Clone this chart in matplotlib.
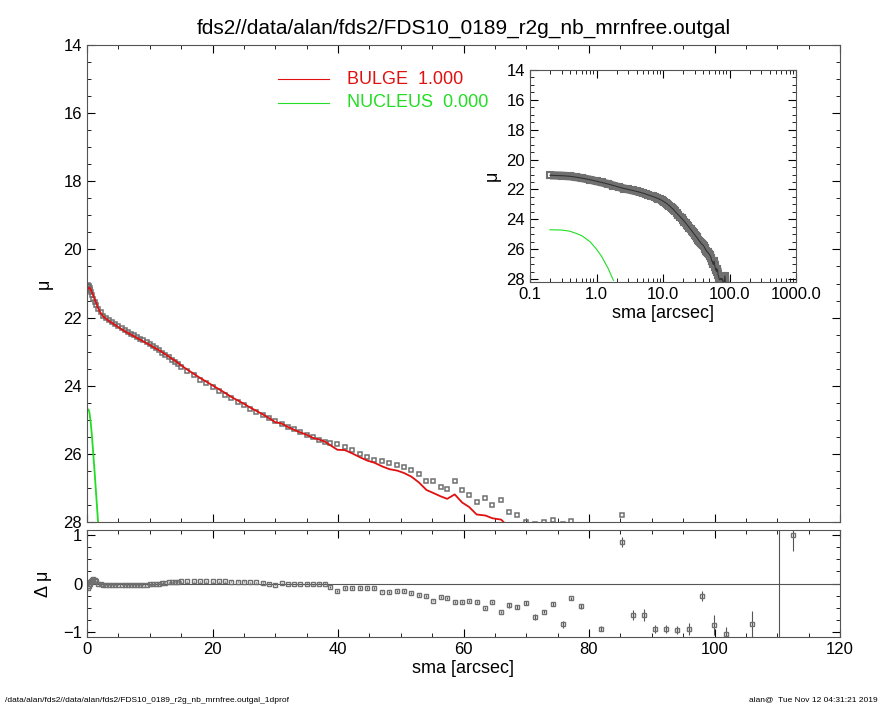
import numpy as np
import matplotlib
matplotlib.use("Agg")
import matplotlib.pyplot as plt
from matplotlib.ticker import MultipleLocator, FixedLocator, NullFormatter

plt.rcParams['font.family'] = ['Liberation Sans', 'DejaVu Sans']

sma = [0.2,0.3,0.4,0.5,0.6,0.8,1.0,1.2,1.5,1.8,2.2,2.6,3.0,3.5,4.0,4.5,5.0,5.5,6.0,6.5,7.0,7.5,8.0,8.5,9.0,9.5,
       10.0,10.5,11.0,11.5,12.0,12.5,13.0,13.5,14.0,14.5,15,16,17,18,19,20,21,22,23,24,25,26,27,28,29,30,31,32,33,34,35,36,37,
       38.0,38.8,39.9,41.1,42.3,43.5,44.7,45.8,47.0,48.2,49.4,50.5,51.7,52.9,54.1,55.2,56.4,57.4,58.6,59.8,60.9,62.1,63.5,
       64.6,66.0,67.2,68.5,69.9,71.4,72.9,74.2,75.8,77.2,78.7,81.9,85.3,87.0,88.8,90.5,92.3,94.1,96.0,98.0,99.9,101.9,106.0,112.5]
mu_data = [21.05,21.08,21.12,21.18,21.24,21.35,21.45,21.53,21.64,21.74,21.85,21.94,22.0,22.07,22.13,22.19,22.25,22.31,22.37,22.42,
           22.47,22.52,22.57,22.62,22.67,22.72,22.78,22.84,22.9,22.96,23.03,23.1,23.17,23.24,23.3,23.37,23.45,23.58,23.7,23.82,23.93,
           24.04,24.15,24.26,24.37,24.47,24.57,24.67,24.77,24.86,24.95,25.04,25.12,25.2,25.28,25.36,25.44,25.51,25.58,
           25.65,25.68,25.72,25.8,25.9,26.0,26.1,26.17,26.2,26.28,26.33,26.4,26.48,26.6,26.8,26.8,26.98,27.02,26.8,27.05,27.2,27.4,27.3,
           27.5,27.35,27.7,27.8,28.0,28.05,28.0,27.95,28.05,27.97,28.1,28.3,27.8,28.4,28.5,28.6,28.7,28.8,28.9,28.9,29.0,29.1,29.2,28.6]
resid = [-0.10,-0.05,0.00,0.03,0.06,0.08,0.09,0.08,0.05,0.0,-0.02,-0.03,-0.03,-0.03,-0.03,-0.03,-0.03,-0.03,-0.03,-0.03,
         -0.03,-0.03,-0.03,-0.03,-0.03,-0.03,-0.02,-0.02,-0.01,0.0,0.01,0.02,0.03,0.03,0.04,0.04,0.05,0.05,0.05,0.05,0.05,
         0.05,0.05,0.05,0.04,0.04,0.04,0.03,0.03,0.02,0.0,-0.03,0.01,-0.01,-0.01,-0.01,0.0,-0.02,0.0,
         0.0,-0.07,-0.16,-0.09,-0.09,-0.10,-0.10,-0.09,-0.165,-0.17,-0.16,-0.16,-0.19,-0.24,-0.26,-0.35,-0.27,-0.30,-0.39,-0.38,-0.36,-0.38,-0.51,
         -0.39,-0.58,-0.45,-0.49,-0.41,-0.69,-0.58,-0.43,-0.84,-0.30,-0.47,-0.93,0.86,-0.65,-0.65,-0.93,-0.93,-0.95,-0.93,-0.25,-0.85,-1.04,-0.84,1.0]
resid_err = [0.01]*59 + [0.02]*25 + [0.05,0.04,0.04,0.07,0.03,0.04,0.07,0.03,0.05,0.05,
             0.1,0.1,0.12,0.08,0.08,0.08,0.12,0.1,0.2,0.15,0.28,0.33]
nuc_sma = [0.2,0.3,0.4,0.5,0.6,0.8,1.0,1.2,1.5,1.8]
nuc_mu = [24.7,24.72,24.8,24.95,25.1,25.5,26.0,26.5,27.3,28.1]

sma_a = np.array(sma); mu_a = np.array(mu_data); r_a = np.array(resid)
mu_model = mu_a - r_a
sel = sma_a <= 70

W, H = 885, 708
fig = plt.figure(figsize=(W/100, H/100), dpi=100)
def ax_at(l, t, r, b):
    return fig.add_axes([l/W, 1-b/H, (r-l)/W, (b-t)/H])

ax = ax_at(87, 45, 840, 522)
axr = ax_at(87, 530, 840, 637)
axi = ax_at(530, 70, 796, 282)

for a in (ax, axr, axi):
    a.tick_params(direction='in', which='both', top=True, right=True, labelsize=12, length=6)
    a.tick_params(which='minor', length=3)
    for s in a.spines.values():
        s.set_color('#555555'); s.set_linewidth(0.8)

gray = '#707070'
ax.plot(sma_a, mu_a, 's', ms=3.5, mfc='none', mec=gray, mew=1.1, clip_on=True)
ax.plot(sma_a[sel], mu_model[sel], '-', color='#e01010', lw=1.3)
ax.plot(nuc_sma, nuc_mu, '-', color='#22dd22', lw=1.3)
ax.set_xlim(0, 120); ax.set_ylim(28, 14)
ax.xaxis.set_major_locator(MultipleLocator(20)); ax.xaxis.set_minor_locator(MultipleLocator(5))
ax.yaxis.set_major_locator(MultipleLocator(2)); ax.yaxis.set_minor_locator(MultipleLocator(0.5))
ax.xaxis.set_major_formatter(NullFormatter())
ax.set_ylabel('μ', fontsize=13, labelpad=8)
ax.set_title('fds2//data/alan/fds2/FDS10_0189_r2g_nb_mrnfree.outgal', fontsize=15, pad=8)
ax.plot([30.5, 38.5], [15.0, 15.0], color='#e01010', lw=0.8)
ax.plot([30.5, 38.5], [15.7, 15.7], color='#22dd22', lw=0.8)
ax.text(41.5, 15.0, 'BULGE  1.000', color='#e01010', fontsize=13, va='center')
ax.text(41.5, 15.7, 'NUCLEUS  0.000', color='#22dd22', fontsize=13, va='center')

axr.errorbar(sma_a, r_a, yerr=resid_err, fmt='s', ms=3.0, mfc='none', mec=gray, mew=1.0,
             ecolor='#555555', elinewidth=0.8, capsize=0)
axr.axhline(0, color='#555555', lw=0.8)
axr.axvline(110.3, color='#555555', lw=0.8)
axr.set_xlim(0, 120); axr.set_ylim(-1.1, 1.1)
axr.xaxis.set_major_locator(MultipleLocator(20)); axr.xaxis.set_minor_locator(MultipleLocator(5))
axr.yaxis.set_major_locator(FixedLocator([-1, 0, 1]))
axr.yaxis.set_minor_locator(MultipleLocator(0.25))
axr.set_xlabel('sma [arcsec]', fontsize=13, labelpad=2)
axr.set_ylabel('Δ μ', fontsize=13, labelpad=8)

axi.plot(sma_a, mu_a, '-', color=gray, lw=6, solid_capstyle='butt')
axi.plot(sma_a, mu_a, 's', ms=4, mfc='none', mec=gray, mew=1.5)
axi.plot(sma_a, mu_a, '-', color='#333333', lw=0.8)
axi.plot(nuc_sma, nuc_mu, '-', color='#22dd22', lw=0.8)
axi.set_xscale('log')
axi.set_xlim(0.1, 1000); axi.set_ylim(28.2, 14)
axi.set_xticks([0.1, 1, 10, 100, 1000])
axi.set_xticklabels(['0.1', '1.0', '10.0', '100.0', '1000.0'])
axi.yaxis.set_major_locator(MultipleLocator(2)); axi.yaxis.set_minor_locator(MultipleLocator(0.5))
axi.set_xlabel('sma [arcsec]', fontsize=13, labelpad=2)
axi.set_ylabel('μ', fontsize=13)

fig.text(5/W, 1-700/H, '/data/alan/fds2//data/alan/fds2/FDS10_0189_r2g_nb_mrnfree.outgal_1dprof', fontsize=6, va='center')
fig.text(878/W, 1-700/H, 'alan@  Tue Nov 12 04:31:21 2019', fontsize=6, va='center', ha='right')

fig.savefig('out.png', dpi=100)
